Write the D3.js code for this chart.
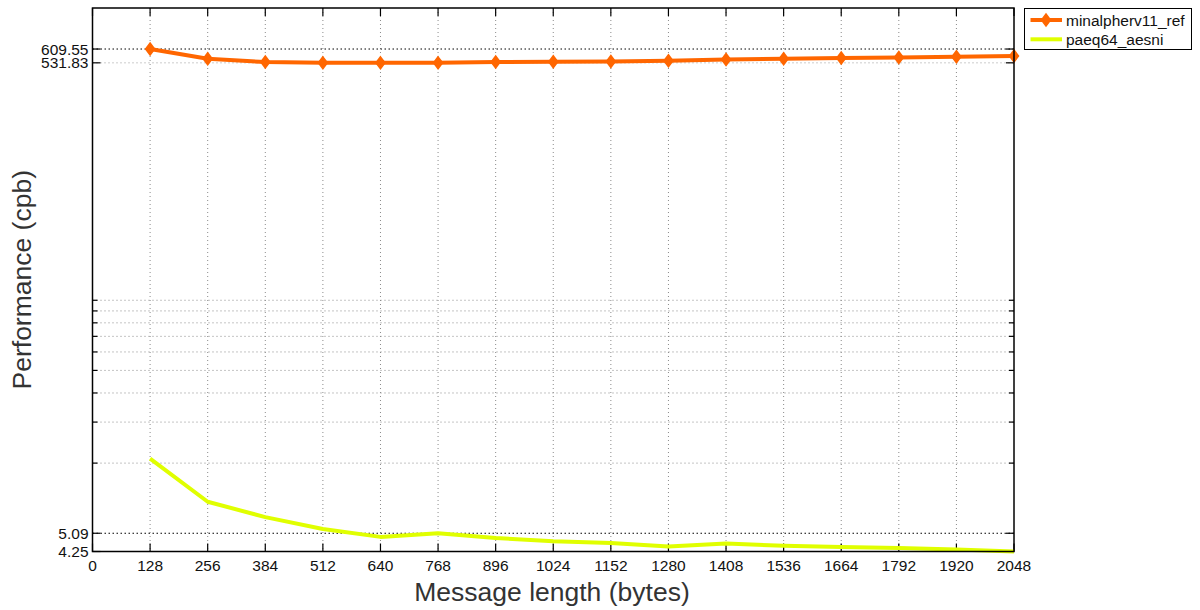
<!DOCTYPE html>
<html>
<head>
<meta charset="utf-8">
<script src="https://cdn.jsdelivr.net/npm/d3@7"></script>
<style>
  body { margin: 0; background: #fff; }
  svg { display: block; font-family: "Liberation Sans", Arial, sans-serif; }
</style>
</head>
<body>
<div id="chart"></div>
<script>
// message lengths (bytes)
const lengths = [128, 256, 384, 512, 640, 768, 896, 1024, 1152, 1280, 1408, 1536, 1664, 1792, 1920, 2048];
// cycles per byte
const minalpher = [609.55, 553.8, 536, 531.83, 531.83, 531.83, 536, 537.6, 539.2, 543, 550, 553.8, 557.7, 561, 565, 568.9];
const paeq = [10.64, 6.95, 5.97, 5.31, 4.91, 5.09, 4.86, 4.70, 4.62, 4.47, 4.60, 4.50, 4.44, 4.40, 4.33, 4.25];

const xTicks = [0, 128, 256, 384, 512, 640, 768, 896, 1024, 1152, 1280, 1408, 1536, 1664, 1792, 1920, 2048];
const yTicks = [4.25, 5.09, 531.83, 609.55];
const yMinor = [10.18, 15.27, 20.36, 25.45, 30.54, 35.63, 40.72, 45.81, 50.9];

const seriesNames = ["minalpherv11_ref", "paeq64_aesni"];
const seriesColors = ["#ff6600", "#e0ff00"];

function drawChart() {
    const width = 1200, height = 610;
    const left = 92.5, right = 1014, top = 8, bottom = 551.5;

    let x = d3.scaleLinear()
    .domain([0, 2048])
    .range([left, right]);

    let y = d3.scaleLog()
    .domain([4.25, 609.55 * 1.5])
    .range([bottom, top]);

    let svg = d3.select('#chart').append('svg')
    .attr('width', width).attr('height', height);

    svg.append('rect').attr('width', width).attr('height', height).attr('fill', '#fff');

    // grid
    let grid = svg.append('g');
    grid.selectAll('.vgrid').data(xTicks.slice(1, -1)).enter().append('line')
    .attr('x1', d => x(d)).attr('x2', d => x(d))
    .attr('y1', top).attr('y2', bottom)
    .attr('stroke', '#8a8a8a').attr('stroke-width', 1)
    .attr('stroke-dasharray', '1,3');

    grid.selectAll('.mgrid').data(yMinor).enter().append('line')
    .attr('x1', left).attr('x2', right)
    .attr('y1', d => y(d)).attr('y2', d => y(d))
    .attr('stroke', '#8a8a8a').attr('stroke-width', 1)
    .attr('stroke-dasharray', '1,3');

    grid.selectAll('.hgrid').data(yTicks.slice(1)).enter().append('line')
    .attr('x1', left).attr('x2', right)
    .attr('y1', d => y(d)).attr('y2', d => y(d))
    .attr('stroke', d => d === 531.83 ? '#9a9a9a' : '#000').attr('stroke-width', 1)
    .attr('stroke-dasharray', d => d === 531.83 ? '1,3' : '1.5,2.5');

    // tick marks
    let ticks = svg.append('g').attr('stroke', '#000').attr('stroke-width', 1.2);
    xTicks.forEach(t => {
        ticks.append('line').attr('x1', x(t)).attr('x2', x(t)).attr('y1', bottom).attr('y2', bottom - 8);
        ticks.append('line').attr('x1', x(t)).attr('x2', x(t)).attr('y1', top).attr('y2', top + 8);
    });
    yTicks.forEach(t => {
        ticks.append('line').attr('x1', left).attr('x2', left + 8).attr('y1', y(t)).attr('y2', y(t));
        ticks.append('line').attr('x1', right).attr('x2', right - 8).attr('y1', y(t)).attr('y2', y(t));
    });
    yMinor.forEach(t => {
        ticks.append('line').attr('x1', left).attr('x2', left + 5).attr('y1', y(t)).attr('y2', y(t));
        ticks.append('line').attr('x1', right).attr('x2', right - 5).attr('y1', y(t)).attr('y2', y(t));
    });

    // series
    let line = d3.line()
    .x((d, i) => x(lengths[i]))
    .y(d => y(d));

    svg.append('path').datum(paeq)
    .attr('fill', 'none').attr('stroke', seriesColors[1])
    .attr('stroke-width', 4).attr('stroke-linejoin', 'round')
    .attr('d', line);

    svg.append('path').datum(minalpher)
    .attr('fill', 'none').attr('stroke', seriesColors[0])
    .attr('stroke-width', 4).attr('stroke-linejoin', 'round')
    .attr('d', line);

    const diamond = (cx, cy) => `M${cx},${cy - 6}L${cx + 4.5},${cy}L${cx},${cy + 6}L${cx - 4.5},${cy}Z`;

    svg.selectAll('.mark').data(minalpher).enter().append('path')
    .attr('d', (d, i) => diamond(x(lengths[i]), y(d)))
    .attr('fill', seriesColors[0]).attr('stroke', seriesColors[0]).attr('stroke-width', 1.5);

    // frame
    svg.append('rect')
    .attr('x', left).attr('y', top)
    .attr('width', right - left).attr('height', bottom - top)
    .attr('fill', 'none').attr('stroke', '#000').attr('stroke-width', 1.5);

    // tick labels
    svg.append('g').selectAll('text').data(xTicks).enter().append('text')
    .attr('x', d => x(d)).attr('y', bottom + 19)
    .attr('text-anchor', 'middle').attr('font-size', '15.5px').attr('fill', '#111')
    .text(d => d);

    svg.append('g').selectAll('text').data(yTicks).enter().append('text')
    .attr('x', left - 4).attr('y', d => y(d)).attr('dy', '0.36em')
    .attr('text-anchor', 'end').attr('font-size', '15.5px').attr('fill', '#111')
    .text(d => d.toFixed(2));

    // axis titles
    svg.append('text')
    .attr('x', 552).attr('y', 601)
    .attr('text-anchor', 'middle').attr('font-size', '26.5px').attr('fill', '#333')
    .text('Message length (bytes)');

    svg.append('text')
    .attr('transform', `translate(31,${(top + bottom) / 2}) rotate(-90)`)
    .attr('text-anchor', 'middle').attr('font-size', '26.5px').attr('fill', '#333')
    .text('Performance (cpb)');

    // legend
    let legend = svg.append('g');
    legend.append('rect')
    .attr('x', 1024.5).attr('y', 8.5).attr('width', 167).attr('height', 41)
    .attr('fill', '#fff').attr('stroke', '#000').attr('stroke-width', 1);

    seriesNames.forEach((name, i) => {
        let ly = 20 + i * 19.3;
        legend.append('line')
        .attr('x1', 1030.5).attr('x2', 1062).attr('y1', ly).attr('y2', ly)
        .attr('stroke', seriesColors[i]).attr('stroke-width', 4);
        if (i === 0) {
            legend.append('path').attr('d', diamond(1046, ly))
            .attr('fill', seriesColors[0]).attr('stroke', seriesColors[0]).attr('stroke-width', 1.5);
        }
        legend.append('text')
        .attr('x', 1066).attr('y', ly).attr('dy', '0.36em')
        .attr('font-size', '15.5px').attr('fill', '#111')
        .text(name);
    });
}

drawChart();
</script>
</body>
</html>
